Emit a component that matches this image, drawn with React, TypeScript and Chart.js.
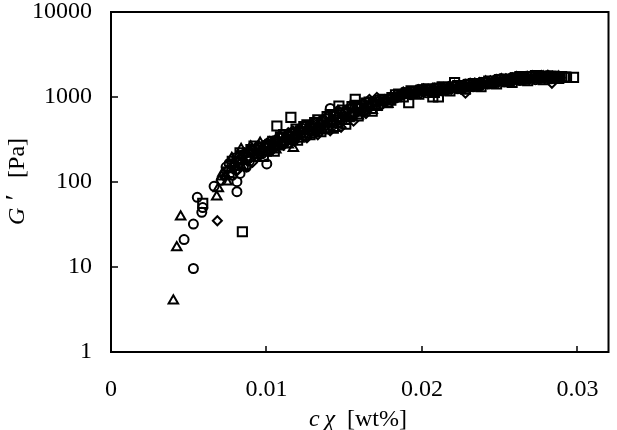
import React, { useEffect, useRef } from "react";
import { Chart, registerables } from "chart.js";

Chart.register(...registerables);

const xTicks = [0, 0.01, 0.02, 0.03];
const yTicks = [1, 10, 100, 1000, 10000];
const xTitleParts = [
  { t: "c\u2009χ", italic: true, size: 24 },
  { t: "  [wt%]", italic: false, size: 24 },
];
const yTitleParts = [
  { t: "G", italic: true, size: 24 },
  { t: "\u2009′", italic: true, size: 28 },
  { t: "   [Pa]", italic: false, size: 24 },
];

const triangles: [number, number][] = [
  [0.00401, 4.0], [0.00423, 17], [0.00448, 39], [0.0068, 67], [0.0069, 84], [0.00712, 115],
  [0.00745, 101], [0.00777, 190], [0.0081, 150], [0.00837, 243], [0.00899, 260], [0.00959, 288],
  [0.01173, 249],
  [0.0072, 128], [0.0077, 140], [0.0082, 205], [0.0086, 175], [0.0088, 215], [0.0092, 190],
  [0.0097, 240], [0.0101, 225], [0.0104, 290], [0.0108, 260], [0.0112, 330], [0.0116, 300],
  [0.0119, 390], [0.0123, 340], [0.0127, 430], [0.0131, 380], [0.0134, 500], [0.0138, 410],
  [0.0142, 560], [0.0146, 470], [0.0149, 640], [0.0153, 560], [0.0157, 720], [0.0161, 650],
  [0.0166, 800], [0.0171, 760], [0.0176, 900], [0.0181, 940], [0.0186, 1040], [0.0191, 1100],
  [0.0196, 1150], [0.0201, 1200], [0.0206, 1150], [0.0211, 1250], [0.0216, 1200], [0.0221, 1330],
  [0.0226, 1280], [0.0231, 1400], [0.0236, 1350], [0.0241, 1500], [0.0246, 1450], [0.0251, 1600],
  [0.0256, 1530], [0.0261, 1680], [0.0266, 1580], [0.0271, 1720], [0.0276, 1620], [0.0281, 1740],
  [0.0286, 1650],
  [0.0074, 118], [0.0079, 160], [0.0084, 150], [0.0089, 235], [0.0094, 205], [0.0099, 265],
  [0.0103, 255], [0.0106, 240], [0.011, 300], [0.0114, 275], [0.0118, 345], [0.0121, 320],
  [0.0125, 395], [0.0129, 360], [0.0133, 445], [0.0136, 400], [0.014, 500], [0.0144, 430],
  [0.0148, 560], [0.0151, 520], [0.0155, 640], [0.0159, 600], [0.0163, 740], [0.0168, 700],
  [0.0173, 850], [0.0178, 820], [0.0183, 960], [0.0188, 1080], [0.0193, 1050], [0.0198, 1180],
  [0.0203, 1130], [0.0208, 1220], [0.0213, 1170], [0.0218, 1270], [0.0223, 1240], [0.0228, 1350],
  [0.0233, 1300], [0.0238, 1420], [0.0243, 1390], [0.0248, 1530], [0.0253, 1480], [0.0258, 1620],
  [0.0263, 1550], [0.0268, 1680], [0.0273, 1600], [0.0278, 1720], [0.0283, 1640], [0.0288, 1720],
];

const circles: [number, number][] = [
  [0.0047, 21], [0.0053, 9.6], [0.0053, 32], [0.00555, 66], [0.00584, 44], [0.0059, 50],
  [0.00663, 89], [0.0081, 77], [0.0081, 101], [0.0083, 126], [0.01002, 163], [0.0141, 733],
  [0.0071, 105], [0.0074, 150], [0.0078, 120], [0.0083, 180], [0.0087, 150], [0.0091, 230],
  [0.0094, 200], [0.0099, 270], [0.0103, 240], [0.0106, 310], [0.011, 280], [0.0114, 360],
  [0.0118, 320], [0.0121, 410], [0.0125, 350], [0.0128, 460], [0.0132, 400], [0.0136, 530],
  [0.0139, 430], [0.0143, 600], [0.0147, 500], [0.0151, 680], [0.0155, 600], [0.0159, 780],
  [0.0163, 700], [0.0168, 850], [0.0173, 820], [0.0178, 930], [0.0183, 1000], [0.0188, 1080],
  [0.0193, 1060], [0.0198, 1220], [0.0203, 1120], [0.0208, 1270], [0.0213, 1180], [0.0218, 1300],
  [0.0223, 1250], [0.0228, 1420], [0.0233, 1320], [0.0238, 1480], [0.0243, 1420], [0.0248, 1620],
  [0.0253, 1500], [0.0258, 1700], [0.0263, 1560], [0.0268, 1760], [0.0273, 1600], [0.0278, 1760],
  [0.0283, 1640], [0.0288, 1740],
  [0.0076, 165], [0.008, 140], [0.0085, 210], [0.0089, 175], [0.0093, 245], [0.0097, 215],
  [0.0101, 280], [0.0105, 255], [0.0108, 330], [0.0112, 300], [0.0116, 380], [0.0119, 345],
  [0.0123, 430], [0.0127, 375], [0.013, 480], [0.0134, 420], [0.0138, 560], [0.0142, 460],
  [0.0145, 640], [0.0149, 540], [0.0153, 720], [0.0157, 650], [0.0161, 800], [0.0166, 760],
  [0.0171, 880], [0.0176, 900], [0.0181, 980], [0.0186, 1060], [0.0191, 1130], [0.0196, 1100],
  [0.0201, 1240], [0.0206, 1180], [0.0211, 1280], [0.0216, 1220], [0.0221, 1340], [0.0226, 1300],
  [0.0231, 1430], [0.0236, 1380], [0.0241, 1520], [0.0246, 1470], [0.0251, 1640], [0.0256, 1560],
  [0.0261, 1720], [0.0266, 1620], [0.0271, 1780], [0.0276, 1660], [0.0281, 1780], [0.0286, 1700],
];

const diamonds: [number, number][] = [
  [0.00684, 35], [0.00873, 151], [0.00937, 197], [0.01662, 939], [0.0171, 990], [0.0188, 1150],
  [0.0228, 1110], [0.02836, 1450],
  [0.0073, 115], [0.0079, 165], [0.0084, 200], [0.0089, 185], [0.0093, 255], [0.0096, 210],
  [0.01, 285], [0.0103, 250], [0.0107, 320], [0.0111, 270], [0.0114, 380], [0.0118, 300],
  [0.0122, 420], [0.0126, 330], [0.0129, 490], [0.0133, 360], [0.0137, 550], [0.0141, 400],
  [0.0144, 620], [0.0148, 440], [0.0152, 700], [0.0156, 520], [0.016, 800], [0.0164, 640],
  [0.0169, 880], [0.0174, 800], [0.0179, 960], [0.0184, 990], [0.0189, 1120], [0.0194, 1150],
  [0.0199, 1100], [0.0204, 1240], [0.0209, 1140], [0.0214, 1300], [0.0219, 1230], [0.0224, 1380],
  [0.0229, 1300], [0.0234, 1460], [0.0239, 1380], [0.0244, 1560], [0.0249, 1480], [0.0254, 1640],
  [0.0259, 1540], [0.0264, 1720], [0.0269, 1600], [0.0274, 1770], [0.0279, 1640], [0.0284, 1770],
  [0.0289, 1680],
  [0.0075, 140], [0.0081, 135], [0.0086, 220], [0.0091, 170], [0.0095, 270], [0.0098, 240],
  [0.0102, 300], [0.0106, 265], [0.0109, 345], [0.0113, 310], [0.0117, 400], [0.012, 350],
  [0.0124, 460], [0.0128, 400], [0.0131, 510], [0.0135, 440], [0.0139, 590], [0.0143, 500],
  [0.0146, 700], [0.015, 600], [0.0154, 760], [0.0158, 680], [0.0162, 840], [0.0167, 780],
  [0.0172, 900], [0.0177, 880], [0.0182, 950], [0.0187, 1040], [0.0192, 1090], [0.0197, 1200],
  [0.0202, 1180], [0.0207, 1260], [0.0212, 1200], [0.0217, 1320], [0.0222, 1280], [0.0227, 1400],
  [0.0232, 1360], [0.0237, 1480], [0.0242, 1430], [0.0247, 1600], [0.0252, 1540], [0.0257, 1680],
  [0.0262, 1600], [0.0267, 1750], [0.0272, 1660], [0.0277, 1790], [0.0282, 1700], [0.0287, 1760],
];

const squares: [number, number][] = [
  [0.0059, 56], [0.00845, 26], [0.01067, 456], [0.01157, 577], [0.01466, 784], [0.01571, 939],
  [0.01807, 982], [0.01915, 857], [0.0207, 1000], [0.02106, 1000], [0.0221, 1480], [0.02889, 1720],
  [0.02921, 1720], [0.02975, 1706],
  [0.0076, 130], [0.0081, 190], [0.0085, 160], [0.009, 240], [0.0095, 220], [0.0098, 200],
  [0.0102, 270], [0.0105, 230], [0.0109, 340], [0.0113, 290], [0.0117, 370], [0.012, 310],
  [0.0124, 450], [0.0128, 360], [0.0131, 500], [0.0135, 390], [0.0139, 590], [0.0143, 430],
  [0.0147, 650], [0.0151, 480], [0.0155, 770], [0.0159, 600], [0.0164, 850], [0.0168, 680],
  [0.0173, 920], [0.0178, 860], [0.0183, 1060], [0.0188, 1000], [0.0193, 1180], [0.0198, 1080],
  [0.0203, 1250], [0.0208, 1130], [0.0213, 1320], [0.0218, 1180], [0.0223, 1360], [0.0228, 1240],
  [0.0233, 1440], [0.0238, 1320], [0.0243, 1540], [0.0248, 1430], [0.0253, 1620], [0.0258, 1480],
  [0.0263, 1740], [0.0268, 1560], [0.0273, 1780], [0.0278, 1600], [0.0283, 1760], [0.0288, 1650],
  [0.0293, 1700],
  [0.0078, 175], [0.0083, 220], [0.0087, 195], [0.0092, 265], [0.0096, 250], [0.01, 230],
  [0.0104, 300], [0.0107, 280], [0.0111, 360], [0.0115, 320], [0.0119, 420], [0.0122, 380],
  [0.0126, 470], [0.013, 420], [0.0133, 540], [0.0137, 470], [0.0141, 620], [0.0145, 540],
  [0.0149, 700], [0.0153, 640], [0.0157, 800], [0.0161, 740], [0.0166, 870], [0.017, 820],
  [0.0175, 940], [0.018, 920], [0.0185, 1080], [0.019, 1120], [0.0195, 1160], [0.02, 1210],
  [0.0205, 1200], [0.021, 1270], [0.0215, 1240], [0.022, 1320], [0.0225, 1300], [0.023, 1400],
  [0.0235, 1360], [0.024, 1480], [0.0245, 1450], [0.025, 1580], [0.0255, 1540], [0.026, 1660],
  [0.0265, 1620], [0.027, 1740], [0.0275, 1680], [0.028, 1760], [0.0285, 1700], [0.029, 1740],
];

const FONT = "'Liberation Serif', 'Times New Roman', serif";

type Part = { t: string; italic: boolean; size: number };

function fontOf(p: Part) {
  return `${p.italic ? "italic " : ""}${p.size}px ${FONT}`;
}

function drawParts(ctx: CanvasRenderingContext2D, parts: Part[]) {
  const widths = parts.map((p) => {
    ctx.font = fontOf(p);
    return ctx.measureText(p.t).width;
  });
  const total = widths.reduce((s, w) => s + w, 0);
  let x = -total / 2;
  ctx.textAlign = "left";
  ctx.textBaseline = "alphabetic";
  parts.forEach((p, i) => {
    ctx.font = fontOf(p);
    ctx.fillText(p.t, x, 0);
    x += widths[i];
  });
}

const framePlugin = {
  id: "frameTicksTitles",
  afterDraw(chart: any) {
    const { ctx, chartArea: a, scales } = chart;
    ctx.save();
    ctx.strokeStyle = "#000";
    ctx.lineWidth = 2;
    ctx.strokeRect(a.left, a.top, a.right - a.left, a.bottom - a.top);
    ctx.lineWidth = 1.5;
    ctx.beginPath();
    for (const v of yTicks.slice(1, -1)) {
      const y = Math.round(scales.y.getPixelForValue(v));
      ctx.moveTo(a.left, y);
      ctx.lineTo(a.left + 7, y);
    }
    for (const v of xTicks.slice(1)) {
      const x = Math.round(scales.x.getPixelForValue(v));
      ctx.moveTo(x, a.bottom);
      ctx.lineTo(x, a.bottom - 6);
    }
    ctx.stroke();
    ctx.fillStyle = "#000";
    ctx.save();
    ctx.translate(358, 426);
    drawParts(ctx, xTitleParts);
    ctx.restore();
    ctx.save();
    ctx.translate(24, 181.5);
    ctx.rotate(-Math.PI / 2);
    drawParts(ctx, yTitleParts);
    ctx.restore();
    ctx.restore();
  },
};

const toPts = (arr: [number, number][]) => arr.map(([x, y]) => ({ x, y }));

export default function App() {
  const ref = useRef<HTMLCanvasElement>(null);
  useEffect(() => {
    const canvas = ref.current;
    if (!canvas) return;
    const common = {
      borderColor: "#000",
      backgroundColor: "rgba(0,0,0,0)",
      borderWidth: 2,
      showLine: false,
    };
    const chart = new Chart(canvas, {
      type: "scatter",
      data: {
        datasets: [
          { ...common, label: "triangles", data: toPts(triangles), pointStyle: "triangle", pointRadius: 5.5 },
          { ...common, label: "circles", data: toPts(circles), pointStyle: "circle", pointRadius: 4.5 },
          { ...common, label: "diamonds", data: toPts(diamonds), pointStyle: "rectRot", pointRadius: 4.5 },
          { ...common, label: "squares", data: toPts(squares), pointStyle: "rect", pointRadius: 6.5 },
        ],
      },
      options: {
        animation: false,
        responsive: false,
        maintainAspectRatio: false,
        layout: { padding: { top: 12, right: 8, left: 0, bottom: 0 } },
        plugins: { legend: { display: false }, tooltip: { enabled: false } },
        scales: {
          x: {
            type: "linear",
            min: 0,
            max: 0.032,
            grid: { display: false, drawTicks: false },
            border: { display: false },
            ticks: {
              color: "#000",
              font: { family: FONT, size: 24 },
              padding: 23,
              maxRotation: 0,
              callback: (v: any) => String(v),
            },
            afterBuildTicks: (s: any) => {
              s.ticks = xTicks.map((v) => ({ value: v }));
            },
            afterFit: (s: any) => {
              s.height = 78;
              s.paddingLeft = 0;
              s.paddingRight = 0;
            },
          },
          y: {
            type: "logarithmic",
            min: 1,
            max: 10000,
            grid: { display: false, drawTicks: false },
            border: { display: false },
            ticks: {
              color: "#000",
              font: { family: FONT, size: 24 },
              padding: 19,
              callback: (v: any) => String(v),
            },
            afterBuildTicks: (s: any) => {
              s.ticks = yTicks.map((v) => ({ value: v }));
            },
            afterFit: (s: any) => {
              s.width = 111;
              s.paddingTop = 0;
              s.paddingBottom = 0;
            },
          },
        },
      },
      plugins: [framePlugin],
    });
    return () => chart.destroy();
  }, []);
  return (
    <div style={{ position: "fixed", left: 0, top: 0, width: 617, height: 430, background: "#fff" }}>
      <canvas ref={ref} width={617} height={430} style={{ display: "block", width: 617, height: 430 }} />
    </div>
  );
}
